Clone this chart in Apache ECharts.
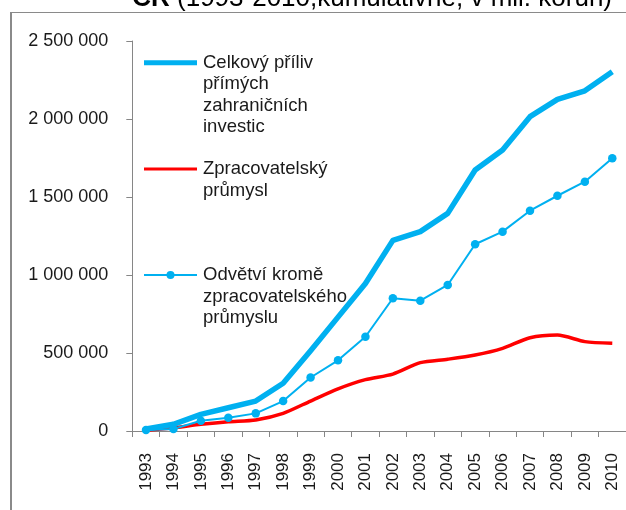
<!DOCTYPE html>
<html>
<head>
<meta charset="utf-8">
<script src="https://cdn.jsdelivr.net/npm/echarts@6/dist/echarts.min.js"></script>
<style>
html,body{margin:0;padding:0;background:#fff;}
#chart{width:626px;height:510px;}
</style>
</head>
<body>
<div id="chart"></div>
<script>
var years = ['1993','1994','1995','1996','1997','1998','1999','2000','2001','2002','2003','2004','2005','2006','2007','2008','2009','2010'];
var totalFDI = [13000, 43000, 107000, 149000, 192000, 306000, 515000, 730000, 945000, 1222000, 1278000, 1395000, 1673000, 1801000, 2015000, 2126000, 2181000, 2303000];
var manufacturing = [5000, 21000, 43000, 60000, 71000, 113000, 192000, 270000, 329000, 365000, 438000, 460000, 487000, 530000, 598000, 615000, 573000, 562000];
var otherSectors = [6000, 13000, 66000, 85000, 113000, 192000, 343000, 453000, 604000, 851000, 835000, 936000, 1197000, 1278000, 1412000, 1508000, 1598000, 1748000];
var seriesNames = ['Celkový příliv přímých zahraničních investic', 'Zpracovatelský průmysl', 'Odvětví kromě zpracovatelského průmyslu'];
var titleText = '{b|ČR} (1993-2010,kumulativně, v mil. korun)';

var BLUE = '#00B0F0', RED = '#FF0000', FONT = 'Liberation Sans, Arial, sans-serif';
var chart = echarts.init(document.getElementById('chart'));

function fmt(v){ return String(v).replace(/\B(?=(\d{3})+(?!\d))/g, ' '); }

var legendText = { fill: '#1a1a1a', font: '18.5px ' + FONT, lineHeight: 21.5, verticalAlign: 'top', align: 'left' };

chart.setOption({
  animation: false,
  backgroundColor: '#fff',
  textStyle: { fontFamily: FONT },
  grid: { left: 132.3, right: -5, top: 41, bottom: 79, containLabel: false },
  xAxis: {
    type: 'category', data: years, boundaryGap: true,
    axisLine: { lineStyle: { color: '#868686', width: 1 } },
    axisTick: { show: true, length: 6, lineStyle: { color: '#868686' } },
    axisLabel: { rotate: 90, margin: 22, fontSize: 17, color: '#1a1a1a', fontFamily: FONT, interval: 0 },
    splitLine: { show: false }
  },
  yAxis: {
    type: 'value', min: 0, max: 2500000, interval: 500000,
    axisLine: { show: true, lineStyle: { color: '#868686', width: 1 } },
    axisTick: { show: true, length: 6, lineStyle: { color: '#868686' } },
    axisLabel: { margin: 24, fontSize: 18, color: '#1a1a1a', fontFamily: FONT, formatter: fmt },
    splitLine: { show: false }
  },
  series: [
    { name: seriesNames[1], type: 'line', data: manufacturing, smooth: 0.25, symbol: 'none',
      lineStyle: { color: RED, width: 3.5 }, itemStyle: { color: RED } },
    { name: seriesNames[0], type: 'line', data: totalFDI, symbol: 'none',
      lineStyle: { color: BLUE, width: 5.5, join: 'round' }, itemStyle: { color: BLUE } },
    { name: seriesNames[2], type: 'line', data: otherSectors, symbol: 'circle', symbolSize: 8.5, showAllSymbol: true,
      lineStyle: { color: BLUE, width: 2 }, itemStyle: { color: BLUE } }
  ],
  graphic: [
    { type: 'line', shape: { x1: 11, y1: 12.5, x2: 640, y2: 12.5 }, style: { stroke: '#8a8a8a', lineWidth: 1 } },
    { type: 'line', shape: { x1: 11, y1: 12, x2: 11, y2: 520 }, style: { stroke: '#8a8a8a', lineWidth: 2 } },
    { type: 'text', x: 612, y: 12, style: { text: titleText, align: 'right', verticalAlign: 'bottom', fill: '#000',
        font: '26px ' + FONT, rich: { b: { fontWeight: 'bold', fontSize: 26, fontFamily: FONT, fill: '#000' } } } },
    { type: 'line', shape: { x1: 144, y1: 62.7, x2: 197, y2: 62.7 }, style: { stroke: BLUE, lineWidth: 5 } },
    { type: 'text', x: 203, y: 52, style: Object.assign({ text: 'Celkový příliv\npřímých\nzahraničních\ninvestic' }, legendText) },
    { type: 'line', shape: { x1: 144, y1: 169, x2: 197, y2: 169 }, style: { stroke: RED, lineWidth: 3 } },
    { type: 'text', x: 203, y: 158.3, style: Object.assign({ text: 'Zpracovatelský\nprůmysl' }, legendText) },
    { type: 'line', shape: { x1: 144, y1: 275, x2: 197, y2: 275 }, style: { stroke: BLUE, lineWidth: 2 } },
    { type: 'circle', shape: { cx: 170.5, cy: 275, r: 4 }, style: { fill: BLUE } },
    { type: 'text', x: 203, y: 264.3, style: Object.assign({ text: 'Odvětví kromě\nzpracovatelského\nprůmyslu' }, legendText) }
  ]
});
</script>
</body>
</html>
